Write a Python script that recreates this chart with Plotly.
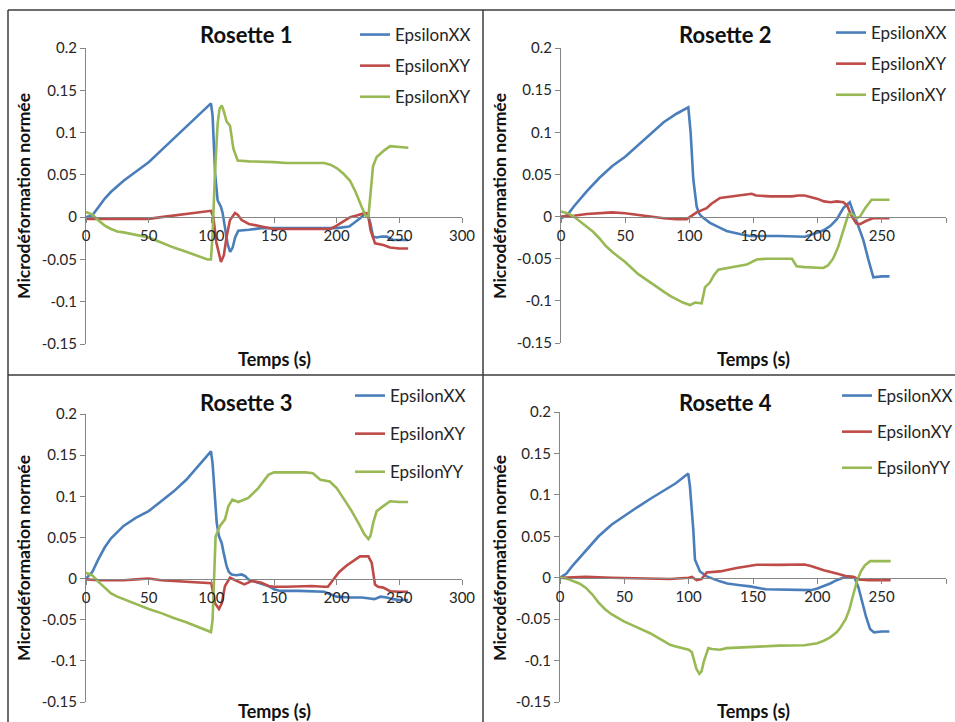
import plotly.graph_objects as go

# ---------------- data ----------------
time_ticks = [0, 50, 100, 150, 200, 250, 300]
strain_ticks = [0.2, 0.15, 0.1, 0.05, 0, -0.05, -0.1, -0.15]
strain_ticktext = ["0.2", "0.15", "0.1", "0.05", "0", "-0.05", "-0.1", "-0.15"]

titles = ["Rosette 1", "Rosette 2", "Rosette 3", "Rosette 4"]
names_12 = ["EpsilonXX", "EpsilonXY", "EpsilonXY"]
names_34 = ["EpsilonXX", "EpsilonXY", "EpsilonYY"]

# Rosette 1
r1_xx_t = [0, 5, 10, 15, 20, 25, 30, 40, 50, 60, 70, 80, 90, 99.7, 101, 103, 105, 107.7, 109, 111, 113, 115, 117, 119, 121.5, 130, 140, 150, 175, 200, 210, 215, 219, 222, 225, 227, 229, 232, 236, 240, 245, 250, 257]
r1_xx = [0, 0.002, 0.012, 0.022, 0.03, 0.037, 0.043, 0.054, 0.065, 0.079, 0.093, 0.107, 0.12, 0.1345, 0.12, 0.052, 0.02, 0.012, 0.005, -0.015, -0.032, -0.041, -0.036, -0.024, -0.016, -0.015, -0.013, -0.013, -0.013, -0.013, -0.011, -0.006, -0.001, 0.003, 0.002, -0.008, -0.023, -0.024, -0.023, -0.023, -0.027, -0.027, -0.027]
r1_xy_t = [0, 20, 40, 50, 60, 70, 80, 90, 99.7, 101.6, 104, 107.7, 110, 112.2, 114.9, 118.9, 121, 124.2, 130, 140, 150, 170, 195, 200, 205, 210.7, 216, 222.6, 225, 227, 230.6, 237.2, 242.6, 250, 257]
r1_xy = [-0.002, -0.002, -0.002, -0.002, 0.0, 0.002, 0.004, 0.006, 0.0075, 0.0, -0.03, -0.053, -0.045, -0.023, -0.0035, 0.005, 0.003, -0.0035, -0.008, -0.011, -0.014, -0.014, -0.014, -0.01, -0.005, 0.0, 0.002, 0.005, 0.004, -0.015, -0.031, -0.033, -0.036, -0.037, -0.037]
r1_yy_t = [0, 5, 10, 15, 20, 25, 30, 40, 50, 60, 70, 80, 90, 97, 99.7, 101, 102.9, 105, 106.5, 108.3, 110, 112.2, 114.9, 117.6, 121, 130, 150, 160, 190, 195, 200, 205, 210.7, 215, 220, 223, 225.3, 227, 229, 231.9, 235.9, 238, 242.6, 250, 257.2]
r1_yy = [0.006, 0.003, -0.004, -0.01, -0.014, -0.017, -0.018, -0.021, -0.024, -0.03, -0.036, -0.041, -0.046, -0.05, -0.05, -0.02, 0.052, 0.11, 0.128, 0.132, 0.125, 0.113, 0.108, 0.081, 0.067, 0.066, 0.065, 0.064, 0.064, 0.062, 0.058, 0.052, 0.043, 0.03, 0.012, 0.002, 0.0, 0.03, 0.06, 0.071, 0.077, 0.079, 0.084, 0.083, 0.082]

# Rosette 2
r2_xx_t = [0, 5, 10, 20, 30, 40, 50, 60, 70, 80, 90, 99.2, 101, 103.1, 105.7, 107.5, 109.6, 116.1, 122, 129, 140, 147.3, 170, 190, 200, 205, 210, 215, 220, 225, 229, 235.6, 239.5, 243.4, 250, 256]
r2_xx = [-0.002, 0.002, 0.012, 0.03, 0.046, 0.06, 0.071, 0.085, 0.099, 0.112, 0.122, 0.1295, 0.1, 0.044, 0.012, 0.004, 0.0, -0.0075, -0.012, -0.017, -0.021, -0.023, -0.023, -0.024, -0.019, -0.016, -0.011, -0.003, 0.01, 0.017, 0.0, -0.028, -0.051, -0.072, -0.071, -0.071]
r2_xy_t = [0, 10, 20, 30, 40, 50, 60, 70, 80, 90, 97.9, 100, 105.7, 113.5, 117, 123.9, 136.9, 148.6, 152, 162.9, 180, 185, 190, 195, 200, 205, 210, 215, 220, 223, 226, 230, 233, 238, 243, 250, 256]
r2_xy = [0.0, 0.001, 0.003, 0.004, 0.005, 0.004, 0.002, 0.0, -0.002, -0.003, -0.003, -0.001, 0.005, 0.010, 0.015, 0.022, 0.025, 0.027, 0.025, 0.024, 0.024, 0.025, 0.025, 0.023, 0.021, 0.018, 0.017, 0.018, 0.017, 0.013, 0.002, -0.008, -0.009, -0.005, -0.002, -0.002, -0.002]
r2_yy_t = [0, 5, 10, 15, 20, 25, 30, 35, 40, 50, 60, 70, 80, 85, 90, 95, 100.5, 104.4, 109.6, 112.2, 116.1, 119, 122.6, 136.9, 144.7, 152.5, 160, 180, 183.6, 190, 204.4, 208, 212, 216, 220, 224, 227, 230, 233, 237, 242, 250, 256]
r2_yy = [0.006, 0.004, 0.0, -0.006, -0.012, -0.018, -0.026, -0.035, -0.042, -0.054, -0.068, -0.079, -0.089, -0.094, -0.098, -0.102, -0.105, -0.102, -0.103, -0.084, -0.078, -0.07, -0.063, -0.059, -0.057, -0.051, -0.050, -0.050, -0.059, -0.060, -0.061, -0.058, -0.05, -0.036, -0.016, 0.003, 0.003, -0.002, 0.0, 0.01, 0.02, 0.02, 0.02]

# Rosette 3
r3_xx_t = [0, 5, 10, 15, 20, 25, 30, 40, 50, 60, 70, 80, 90, 99.7, 101, 102.5, 104.3, 106, 108.3, 110, 112.2, 114, 116.2, 120, 124.2, 127, 129.5, 135, 140, 145.5, 150, 155, 170, 190, 195, 200, 210, 220, 225, 230, 235, 240, 245, 250, 257]
r3_xx = [0, 0.008, 0.024, 0.038, 0.049, 0.057, 0.064, 0.074, 0.082, 0.094, 0.106, 0.12, 0.137, 0.1547, 0.14, 0.1, 0.0677, 0.052, 0.043, 0.03, 0.015, 0.008, 0.005, 0.004, 0.005, 0.003, -0.001, -0.004, -0.006, -0.009, -0.013, -0.015, -0.015, -0.016, -0.019, -0.022, -0.023, -0.023, -0.024, -0.025, -0.022, -0.023, -0.025, -0.026, -0.026]
r3_xy_t = [0, 10, 20, 30, 40, 50, 60, 70, 80, 87, 100, 102.9, 106.1, 108.3, 110.9, 114.9, 118, 121.5, 126.3, 132.2, 140, 145.5, 150, 160, 180, 190, 193, 198, 202, 208, 215, 218.6, 225.3, 228, 230.6, 233, 237.2, 242.6, 250, 257]
r3_xy = [-0.001, -0.002, -0.002, -0.002, -0.001, 0.0, -0.002, -0.003, -0.004, -0.005, -0.0057, -0.03, -0.037, -0.03, -0.009, 0.001, -0.001, -0.003, -0.007, -0.003, -0.005, -0.009, -0.010, -0.010, -0.009, -0.010, -0.010, 0.0, 0.008, 0.016, 0.023, 0.027, 0.027, 0.019, -0.0073, -0.01, -0.011, -0.0154, -0.016, -0.016]
r3_yy_t = [0, 5, 10, 15, 20, 25, 30, 40, 50, 60, 70, 80, 90, 99.7, 101, 102, 103.4, 106.9, 110.9, 113.6, 116.8, 121.5, 129.5, 137.5, 145.5, 150, 160, 175, 181, 184, 187, 194.5, 200, 207.8, 212, 218.6, 222, 225.3, 227, 229.2, 231.9, 237.2, 242.6, 250, 257]
r3_yy = [0.007, 0.004, -0.004, -0.011, -0.018, -0.022, -0.025, -0.031, -0.037, -0.042, -0.048, -0.053, -0.059, -0.065, -0.05, 0.0, 0.051, 0.064, 0.072, 0.088, 0.096, 0.093, 0.098, 0.110, 0.126, 0.129, 0.129, 0.129, 0.128, 0.124, 0.12, 0.118, 0.11, 0.092, 0.082, 0.064, 0.054, 0.048, 0.052, 0.068, 0.082, 0.088, 0.094, 0.093, 0.093]

# Rosette 4
r4_xx_t = [0, 5, 10, 20, 30, 40, 50, 60, 70, 80, 90, 99.7, 101, 103.6, 104.9, 108.8, 114, 124.3, 130, 140, 147.7, 160, 190, 195, 200, 205, 210, 215, 220, 225, 229, 232, 235, 238, 241, 244, 250, 256]
r4_xx = [0, 0.005, 0.015, 0.032, 0.05, 0.064, 0.075, 0.085, 0.095, 0.104, 0.114, 0.1257, 0.11, 0.058, 0.0217, 0.0076, 0.0016, -0.0044, -0.007, -0.009, -0.0105, -0.014, -0.015, -0.015, -0.013, -0.01, -0.007, -0.003, 0.0, 0.001, 0.0, -0.012, -0.03, -0.048, -0.062, -0.066, -0.065, -0.065]
r4_xy_t = [0, 20, 40, 60, 85.5, 100, 102.5, 106.2, 110, 114, 124.3, 137.3, 152.9, 170, 185, 190, 195, 205, 215, 222, 228, 232, 240, 250, 257]
r4_xy = [0, 0.001, 0.0, -0.001, -0.0016, 0.0, 0.001, -0.003, -0.0016, 0.0064, 0.0076, 0.0117, 0.0157, 0.0155, 0.016, 0.016, 0.014, 0.009, 0.005, 0.002, 0.001, -0.002, -0.003, -0.003, -0.003]
r4_yy_t = [0, 5, 10, 15, 20, 25, 30, 35, 40, 50, 60, 70, 80, 85.5, 90, 100, 102.5, 104, 106, 108.3, 110, 112, 115.3, 118, 124.3, 129.5, 140, 152.9, 170, 190, 200, 205, 210, 215, 218, 222, 225, 228, 231, 234, 237, 241, 250, 257]
r4_yy = [0, -0.001, -0.004, -0.007, -0.012, -0.02, -0.03, -0.038, -0.044, -0.053, -0.06, -0.067, -0.076, -0.081, -0.083, -0.087, -0.09, -0.1, -0.11, -0.116, -0.113, -0.1, -0.085, -0.086, -0.087, -0.085, -0.084, -0.083, -0.082, -0.0815, -0.079, -0.076, -0.072, -0.066, -0.06, -0.05, -0.038, -0.02, -0.003, 0.008, 0.015, 0.02, 0.02, 0.02]

series = [
    [(r1_xx_t, r1_xx), (r1_xy_t, r1_xy), (r1_yy_t, r1_yy)],
    [(r2_xx_t, r2_xx), (r2_xy_t, r2_xy), (r2_yy_t, r2_yy)],
    [(r3_xx_t, r3_xx), (r3_xy_t, r3_xy), (r3_yy_t, r3_yy)],
    [(r4_xx_t, r4_xx), (r4_xy_t, r4_xy), (r4_yy_t, r4_yy)],
]
legend_names = [names_12, names_12, names_34, names_34]

# ---------------- styling / layout ----------------
PAGE_MARGIN = 0          # body margin removed by the post script below
W, H = 955 - 2 * PAGE_MARGIN, 722 - 2 * PAGE_MARGIN
COLORS = ["#4A7EBB", "#BE4B48", "#98B954"]
FONT = "Lato, 'Open Sans', sans-serif"
AXIS_GRAY = "#868686"
TXT = "#262626"
Y_MIN, Y_MAX = -0.15, 0.2

def px2x(p):
    return (p - PAGE_MARGIN) / W

def px2y(p):
    return 1 - (p - PAGE_MARGIN) / H

# plot-area boxes in page pixels: (left, right, top, bottom)
boxes = [(86, 462, 48, 344), (561, 946, 48, 343), (86, 462, 414, 702), (560, 946, 412, 702)]
title_pos = [(246, 35), (725, 35), (246, 402), (725, 402)]
xtitle_pos = [(274, 359), (753, 359), (274, 711), (753, 711)]
ytitle_pos = [(23, 196), (499, 196), (23, 558), (499, 558)]
legend_pos = [(355, 17), (831, 15), (350, 378), (837, 378)]
legend_gap = [6, 6, 13, 11]

fig = go.Figure()
layout = dict(
    width=W, height=H,
    margin=dict(l=0, r=0, t=0, b=0, pad=0, autoexpand=False),
    paper_bgcolor="white", plot_bgcolor="white",
    font=dict(family=FONT, color=TXT),
    showlegend=True,
)
annotations = []

for i in range(4):
    sfx = "" if i == 0 else str(i + 1)
    xa, ya = "x" + sfx, "y" + sfx
    leg = "legend" + sfx
    for j, (t, v) in enumerate(series[i]):
        fig.add_trace(go.Scatter(
            x=t, y=v, mode="lines", name=legend_names[i][j],
            line=dict(color=COLORS[j], width=2.6),
            xaxis=xa, yaxis=ya, legend=leg, legendgroup=f"p{i}s{j}",
        ))
    l, r, tp, bt = boxes[i]
    ydom = [px2y(bt), px2y(tp)]
    zero_pos = ydom[0] + (0 - Y_MIN) / (Y_MAX - Y_MIN) * (ydom[1] - ydom[0])
    layout["xaxis" + sfx] = dict(
        domain=[px2x(l), px2x(r)], range=[0, 300], anchor="free", position=zero_pos,
        tickvals=time_ticks, ticks="outside", ticklen=5, tickcolor=AXIS_GRAY,
        showline=True, linecolor=AXIS_GRAY, linewidth=1, showgrid=False, zeroline=False,
        tickfont=dict(size=15, color=TXT, family=FONT), automargin=False,
    )
    layout["yaxis" + sfx] = dict(
        domain=ydom, range=[Y_MIN, Y_MAX], anchor=xa,
        tickvals=strain_ticks, ticktext=strain_ticktext, ticks="outside", ticklen=5,
        tickcolor=AXIS_GRAY, showline=True, linecolor=AXIS_GRAY, linewidth=1,
        showgrid=False, zeroline=False, automargin=False,
        tickfont=dict(size=15, color=TXT, family=FONT),
    )
    lx, ly = legend_pos[i]
    layout[leg] = dict(
        x=px2x(lx), y=px2y(ly), xanchor="left", yanchor="top",
        bgcolor="rgba(0,0,0,0)", font=dict(size=17, color=TXT, family=FONT),
        tracegroupgap=legend_gap[i], traceorder="grouped",
    )
    tx, ty = title_pos[i]
    annotations.append(dict(text="<b>" + titles[i] + "</b>", x=px2x(tx), y=px2y(ty),
                            xref="paper", yref="paper", showarrow=False,
                            xanchor="center", yanchor="middle",
                            font=dict(size=22, color="#111", family=FONT)))
    xx, xy = xtitle_pos[i]
    annotations.append(dict(text="<b>Temps (s)</b>", x=px2x(xx), y=px2y(xy),
                            xref="paper", yref="paper", showarrow=False,
                            xanchor="center", yanchor="middle",
                            font=dict(size=18, color="#111", family=FONT)))
    yx, yy = ytitle_pos[i]
    annotations.append(dict(text="<b>Microdéformation normée</b>", x=px2x(yx), y=px2y(yy),
                            xref="paper", yref="paper", showarrow=False, textangle=-90,
                            xanchor="center", yanchor="middle",
                            font=dict(size=17.5, color="#111", family=FONT)))

layout["annotations"] = annotations

# chart-area borders
BORDER = "#3c3c3c"
bx0 = px2x(8)
layout["shapes"] = [
    dict(type="line", xref="paper", yref="paper", x0=bx0, x1=1, y0=px2y(10), y1=px2y(10), line=dict(color=BORDER, width=1.5)),
    dict(type="line", xref="paper", yref="paper", x0=bx0, x1=bx0, y0=px2y(10), y1=0, line=dict(color=BORDER, width=1.5)),
    dict(type="line", xref="paper", yref="paper", x0=px2x(483), x1=px2x(483), y0=px2y(10), y1=0, line=dict(color=BORDER, width=1.5)),
    dict(type="line", xref="paper", yref="paper", x0=bx0, x1=1, y0=px2y(375), y1=px2y(375), line=dict(color=BORDER, width=1.5)),
]

fig.update_layout(**layout)
fig.write_html("out.html", config={"displayModeBar": False},
               post_script="document.body.style.margin='0px';")
